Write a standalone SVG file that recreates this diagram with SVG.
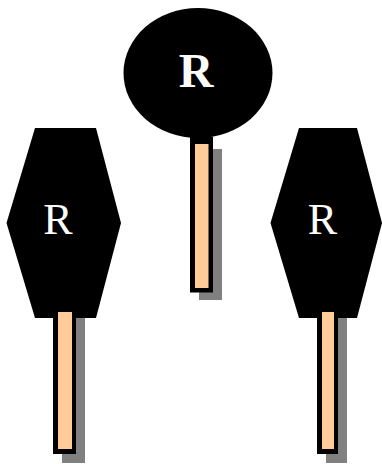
<svg xmlns="http://www.w3.org/2000/svg" width="382" height="464" viewBox="0 0 382 464">
<style>
.head{fill:#000}
.shadow{fill:#808080}
.stem{fill:#ffcc99}
.frame{fill:#000}
text{font-family:"Liberation Serif","Times New Roman",serif;fill:#fff;text-anchor:middle;opacity:.99}
.big{font-size:48px;font-weight:bold}
.reg{font-size:44px}
</style>
<rect width="382" height="464" fill="#fff"/>
<g id="node-top">
<rect class="shadow" x="199" y="149" width="23" height="151"/>
<ellipse class="head" cx="198" cy="73" rx="74.500" ry="65"/>
<rect class="frame" x="190" y="137" width="23" height="155.500"/>
<rect class="stem" x="195" y="144" width="13.500" height="144"/>
<text class="big" x="196" y="87">R</text>
</g>
<g id="node-left">
<rect class="shadow" x="62" y="317" width="23" height="146"/>
<polygon class="head" points="35,128 96,128 121,223 96,318 35,318 6.500,223"/>
<rect class="frame" x="53" y="312" width="23" height="142"/>
<rect class="stem" x="58" y="312" width="14" height="137"/>
<text class="reg" x="58" y="234">R</text>
</g>
<g id="node-right">
<rect class="shadow" x="326" y="317" width="21" height="146"/>
<polygon class="head" points="299,128 357,128 382,223 357,318 299,318 270.500,223"/>
<rect class="frame" x="317" y="312" width="21" height="142"/>
<rect class="stem" x="322" y="312" width="12" height="137"/>
<text class="reg" x="322.500" y="234">R</text>
</g>
<g id="connectors"></g>
</svg>
